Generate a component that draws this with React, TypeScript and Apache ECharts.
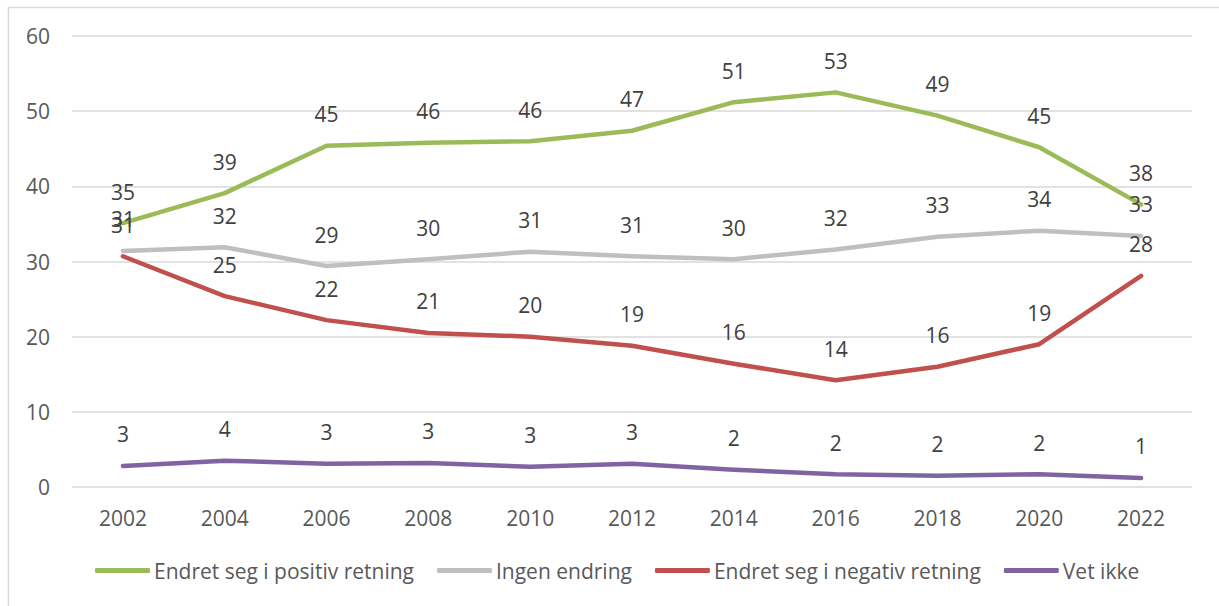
import React, { useEffect, useRef } from "react";
import * as echarts from "echarts";

const years = ["2002", "2004", "2006", "2008", "2010", "2012", "2014", "2016", "2018", "2020", "2022"];
const positiv = [35.1, 39.1, 45.4, 45.8, 46.0, 47.4, 51.2, 52.5, 49.4, 45.2, 37.6];
const ingen = [31.4, 31.9, 29.4, 30.3, 31.3, 30.7, 30.3, 31.6, 33.3, 34.1, 33.4];
const negativ = [30.7, 25.4, 22.2, 20.5, 20.0, 18.8, 16.4, 14.2, 16.0, 19.0, 28.1];
const vetIkke = [2.8, 3.5, 3.1, 3.2, 2.7, 3.1, 2.3, 1.7, 1.5, 1.7, 1.2];

const seriesNames = [
  "Endret seg i positiv retning",
  "Ingen endring",
  "Endret seg i negativ retning",
  "Vet ikke",
];
const seriesColors = ["#9BBB59", "#BFBFBF", "#C0504D", "#8064A2"];
const seriesData = [positiv, ingen, negativ, vetIkke];

const FONT = "'Open Sans', 'Noto Sans', sans-serif";

export default function App() {
  const ref = useRef<HTMLDivElement>(null);
  useEffect(() => {
    if (!ref.current) return;
    const chart = echarts.init(ref.current, null, { renderer: "svg" });
    chart.setOption({
      animation: false,
      backgroundColor: "#ffffff",
      textStyle: { fontFamily: FONT },
      graphic: [
        {
          type: "rect",
          shape: { x: 8.5, y: 7.5, width: 1230, height: 620 },
          style: { fill: "none", stroke: "#D9D9D9", lineWidth: 1.5 },
          silent: true,
          z: -1,
        },
      ],
      grid: { left: 72, right: 27, top: 36, bottom: 119, containLabel: false },
      legend: {
        data: seriesNames,
        top: 555,
        left: 90,
        itemWidth: 55,
        itemHeight: 5,
        itemGap: 23,
        icon: "roundRect",
        textStyle: { fontFamily: FONT, fontSize: 21, color: "#595959", padding: [0, 0, 0, -1] },
      },
      xAxis: {
        type: "category",
        data: years,
        boundaryGap: true,
        axisLine: { show: false },
        axisTick: { show: false },
        axisLabel: { fontFamily: FONT, fontSize: 21, color: "#595959", margin: 20 },
      },
      yAxis: {
        type: "value",
        min: 0,
        max: 60,
        interval: 10,
        axisLine: { show: false },
        axisTick: { show: false },
        axisLabel: { fontFamily: FONT, fontSize: 21, color: "#595959", margin: 22 },
        splitLine: { lineStyle: { color: "#D9D9D9", width: 1.5 } },
      },
      series: seriesData.map((d, i) => ({
        name: seriesNames[i],
        type: "line",
        data: d,
        showSymbol: true,
        symbol: "circle",
        symbolSize: 0,
        color: seriesColors[i],
        itemStyle: { color: seriesColors[i] },
        lineStyle: { color: seriesColors[i], width: 4.5, cap: "round", join: "round" },
        label: {
          show: true,
          position: "top",
          distance: 21,
          fontFamily: FONT,
          fontSize: 21,
          color: "#404040",
          formatter: (p: any) => String(Math.round(p.value)),
        },
        labelLayout: { hideOverlap: false },
      })),
    });
    return () => chart.dispose();
  }, []);
  return (
    <div
      ref={ref}
      style={{ position: "fixed", left: 0, top: 0, width: 1219, height: 606 }}
    />
  );
}
